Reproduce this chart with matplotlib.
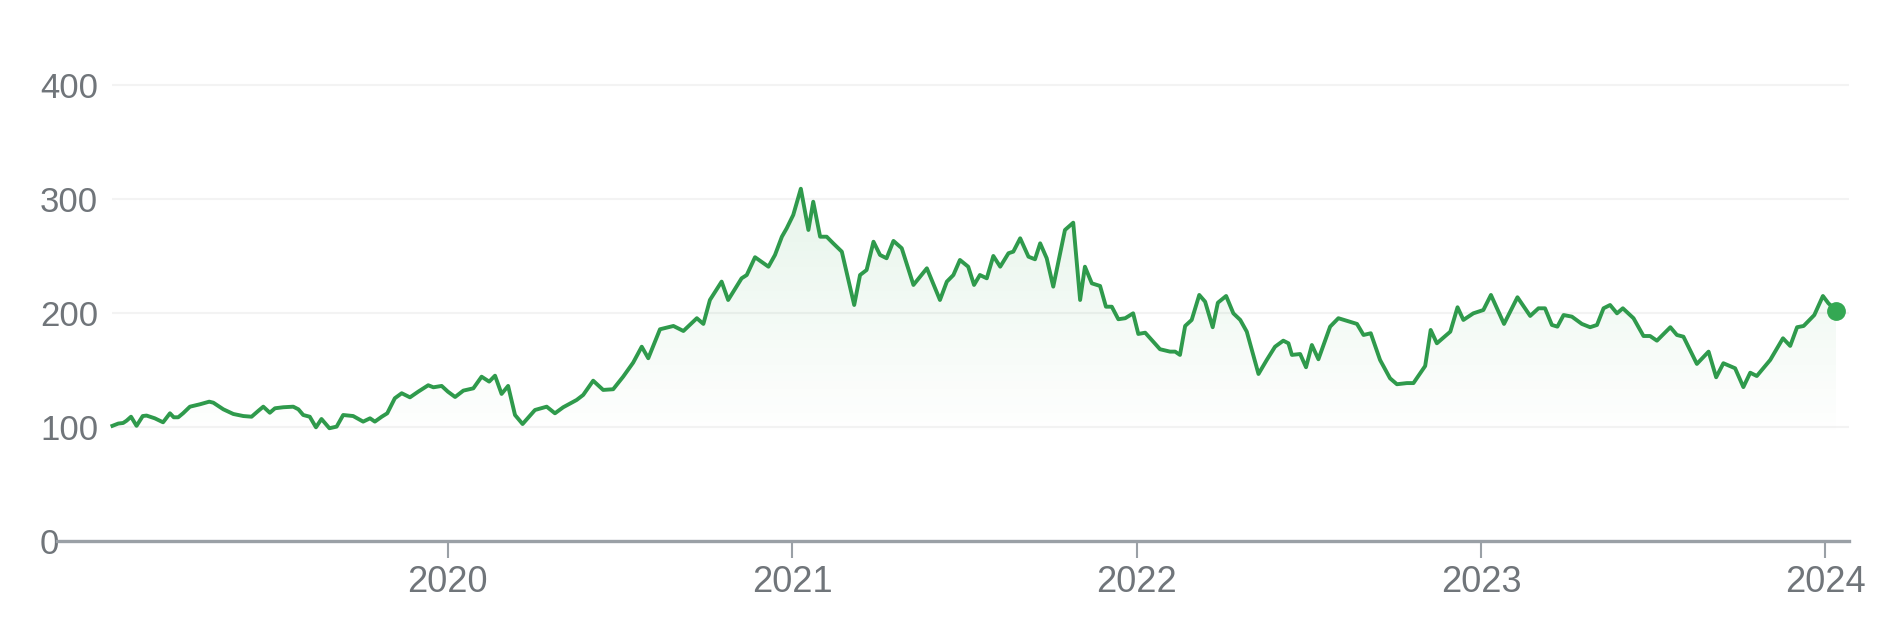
import matplotlib.pyplot as plt
import numpy as np
from matplotlib.colors import to_rgb

plt.rcParams['font.family'] = ['Liberation Sans', 'DejaVu Sans']

# points: decimal year and price
years = [
    2019.026, 2019.043, 2019.057, 2019.067, 2019.080, 2019.086, 2019.096, 2019.114,
    2019.125, 2019.149, 2019.173, 2019.193, 2019.204, 2019.217, 2019.231, 2019.251,
    2019.280, 2019.307, 2019.319, 2019.348, 2019.377, 2019.406, 2019.430, 2019.449,
    2019.464, 2019.483, 2019.498, 2019.522, 2019.551, 2019.566, 2019.580, 2019.599,
    2019.617, 2019.633, 2019.656, 2019.677, 2019.696, 2019.725, 2019.754, 2019.774,
    2019.788, 2019.808, 2019.824, 2019.846, 2019.866, 2019.890, 2019.914, 2019.943,
    2019.958, 2019.982, 2020.000, 2020.021, 2020.045,
    2020.074, 2020.098, 2020.120, 2020.137, 2020.156, 2020.175, 2020.195, 2020.217,
    2020.253, 2020.287, 2020.311, 2020.335, 2020.374, 2020.393, 2020.422, 2020.451,
    2020.480, 2020.509, 2020.538, 2020.563, 2020.582, 2020.616, 2020.655, 2020.684,
    2020.723, 2020.742, 2020.761, 2020.795, 2020.814, 2020.853, 2020.868, 2020.892,
    2020.931, 2020.950, 2020.970, 2020.984, 2021.003, 2021.025,
    2021.047, 2021.061, 2021.081, 2021.100, 2021.119, 2021.144, 2021.180, 2021.197,
    2021.216, 2021.236, 2021.255, 2021.274, 2021.294, 2021.318, 2021.352, 2021.391,
    2021.429, 2021.449, 2021.468, 2021.487, 2021.511, 2021.528, 2021.545, 2021.565,
    2021.584, 2021.604, 2021.628, 2021.642, 2021.662, 2021.686, 2021.705, 2021.720,
    2021.739, 2021.758, 2021.792, 2021.816, 2021.836, 2021.850, 2021.870, 2021.894,
    2021.911, 2021.928, 2021.947, 2021.967, 2021.990, 2022.005, 2022.025,
    2022.044, 2022.068, 2022.097, 2022.112, 2022.126, 2022.141, 2022.160, 2022.182,
    2022.199, 2022.221, 2022.236, 2022.260, 2022.281, 2022.301, 2022.320, 2022.354,
    2022.378, 2022.402, 2022.426, 2022.441, 2022.451, 2022.475, 2022.492, 2022.509,
    2022.528, 2022.562, 2022.586, 2022.640, 2022.659, 2022.680, 2022.707, 2022.736,
    2022.756, 2022.785, 2022.804, 2022.838, 2022.854, 2022.872, 2022.911, 2022.932,
    2022.949, 2022.978, 2023.007,
    2023.029, 2023.067, 2023.106, 2023.143, 2023.167, 2023.186, 2023.206, 2023.222,
    2023.240, 2023.264, 2023.293, 2023.317, 2023.337, 2023.356, 2023.375, 2023.395,
    2023.412, 2023.443, 2023.472, 2023.491, 2023.511, 2023.550, 2023.569, 2023.588,
    2023.627, 2023.661, 2023.683, 2023.704, 2023.738, 2023.762, 2023.782, 2023.801,
    2023.840, 2023.877, 2023.898, 2023.918, 2023.937, 2023.968, 2023.993, 2024.009,
    2024.032,
]
prices = [
    101.0, 103.0, 103.5, 105.5, 109.0, 106.0, 101.0, 109.6,
    110.0, 107.6, 104.1, 112.0, 108.5, 108.5, 112.0, 117.8,
    119.9, 122.2, 121.3, 115.5, 111.4, 109.6, 109.0, 114.0,
    117.8, 112.5, 116.4, 117.3, 117.8, 115.5, 110.5, 109.0,
    99.7, 107.0, 98.9, 100.3, 110.5, 109.6, 104.7, 107.6,
    104.7, 109.0, 112.0, 125.2, 129.6, 126.0, 131.0, 136.6,
    134.8, 136.0, 131.0, 126.3, 131.9,
    133.9, 144.1, 139.8, 145.0, 129.0, 136.0, 110.5, 102.6,
    114.9, 117.8, 112.0, 117.3, 123.7, 128.1, 140.6, 132.5,
    133.1, 144.1, 156.4, 170.4, 160.3, 185.7, 188.6, 184.2,
    195.4, 190.4, 211.4, 227.5, 211.4, 230.4, 233.3, 248.9,
    240.6, 250.9, 266.9, 274.3, 286.0, 309.0,
    272.8, 297.6, 266.9, 266.9, 261.1, 253.8, 207.0, 233.3,
    237.7, 262.5, 250.9, 248.0, 263.2, 256.8, 224.6, 239.2,
    211.4, 227.5, 233.3, 246.5, 240.6, 224.6, 233.3, 230.4,
    250.0, 240.6, 252.4, 253.8, 265.5, 249.4, 247.1, 261.1,
    248.0, 223.1, 272.8, 279.2, 211.4, 240.6, 226.0, 223.7,
    205.5, 205.5, 194.5, 195.4, 199.7, 181.6, 182.7,
    176.3, 168.2, 166.1, 166.1, 163.2, 188.6, 193.9, 215.8,
    209.9, 187.5, 209.0, 214.9, 199.7, 193.9, 183.6, 146.5,
    158.8, 170.4, 175.7, 173.4, 163.2, 164.0, 152.4, 171.9,
    159.4, 188.0, 195.4, 190.4, 180.7, 182.2, 158.8, 142.7,
    137.5, 138.5, 138.5, 153.5, 185.1, 173.4, 183.6, 205.0,
    193.9, 199.7, 202.6,
    215.8, 190.4, 213.8, 197.4, 204.1, 204.1, 189.5, 188.0,
    198.2, 196.8, 190.4, 187.5, 189.5, 204.1, 207.0, 199.7,
    204.1, 195.4, 179.8, 179.8, 175.7, 187.5, 180.7, 179.2,
    155.3, 166.1, 143.6, 155.9, 151.5, 135.0, 147.6, 144.7,
    158.8, 177.8, 171.1, 187.5, 188.6, 198.2, 214.9, 208.5,
    202.0,
]

year_ticks = [2020, 2021, 2022, 2023, 2024]
value_ticks = [0, 100, 200, 300, 400]

LINE_GREEN = "#2f9a4c"
DOT_GREEN = "#34a853"
TEXT_GREY = "#70757a"
AXIS_GREY = "#9aa0a6"
GRID_GREY = "#f3f3f3"

fig = plt.figure(figsize=(19, 6.39), dpi=100)
ax = fig.add_axes([0.030, 0.1534, 0.9432, 0.7493])
ax.set_xlim(2018.865, 2024.069)
ax.set_ylim(0, 420)

# faint horizontal gridlines
ax.hlines(value_ticks[1:], years[0], 2024.069, color=GRID_GREY, lw=1.5, zorder=0)

# gradient under the line, clipped to the area below it
area = ax.fill_between(years, prices, 0, color='none', lw=0)
top = max(prices)
vals = np.linspace(top, 0, 300)
grad = np.zeros((300, 1, 4))
grad[..., :3] = to_rgb(DOT_GREEN)
grad[:, 0, 3] = np.clip((vals - 90) / (top - 90), 0, 1) * 0.12
im = ax.imshow(grad, aspect='auto', extent=(years[0], years[-1], 0, top),
               origin='upper', zorder=1, interpolation='bilinear')
im.set_clip_path(area.get_paths()[0], transform=ax.transData)

ax.plot(years, prices, color=LINE_GREEN, lw=2.8, zorder=3)
ax.plot(years[-1], prices[-1], 'o', ms=12.5, color=DOT_GREEN, zorder=4)

# axes styling
for side in ['top', 'right', 'left']:
    ax.spines[side].set_visible(False)
ax.spines['bottom'].set_color(AXIS_GREY)
ax.spines['bottom'].set_linewidth(2.4)

ax.set_xticks(year_ticks)
ax.set_xticklabels([str(y) for y in year_ticks])
ax.tick_params(axis='x', length=12, width=1.5, color=AXIS_GREY,
               labelcolor=TEXT_GREY, labelsize=26, pad=5)

ax.set_yticks(value_ticks)
ax.set_yticklabels([str(v) for v in value_ticks])
ax.tick_params(axis='y', length=0, labelcolor=TEXT_GREY, labelsize=25, pad=12.2)
for lab in ax.get_yticklabels():
    lab.set_horizontalalignment('left')

fig.savefig('out.png', dpi=100)
